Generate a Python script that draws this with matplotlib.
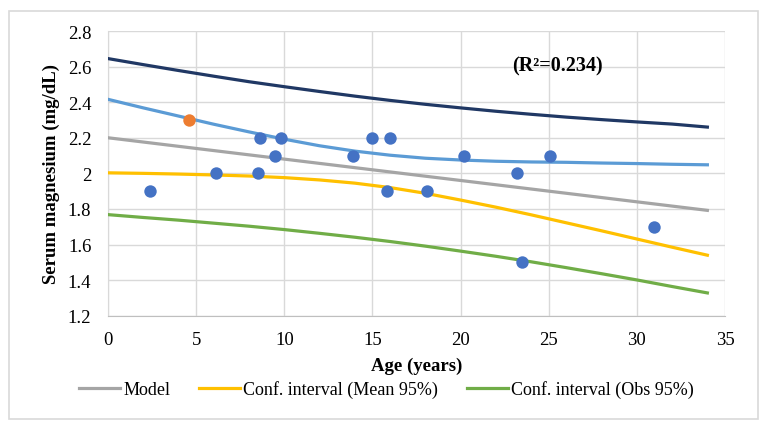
import matplotlib
matplotlib.use("Agg")
import matplotlib.pyplot as plt
from matplotlib.patches import Rectangle

# Observed data points
age = [2.4, 6.1, 8.6, 8.5, 9.5, 9.8, 13.9, 15.0, 16.0, 15.8, 20.2, 18.1, 23.2, 25.1, 31.0, 23.5]
mg = [1.9, 2.0, 2.2, 2.0, 2.1, 2.2, 2.1, 2.2, 2.2, 1.9, 2.1, 1.9, 2.0, 2.1, 1.7, 1.5]
outlier_age = [4.6]
outlier_mg = [2.3]

# Curves
curve_x = [0, 2, 4, 6, 8, 10, 12, 14, 16, 18, 20, 22, 24, 26, 28, 30, 32, 34]
model = [2.200, 2.176, 2.152, 2.128, 2.104, 2.080, 2.056, 2.032, 2.008, 1.984,
         1.960, 1.936, 1.912, 1.888, 1.864, 1.840, 1.816, 1.792]
mean_low = [2.003, 2.000, 1.996, 1.991, 1.985, 1.976, 1.963, 1.945, 1.920, 1.888,
            1.850, 1.810, 1.767, 1.722, 1.677, 1.631, 1.585, 1.540]
mean_up = [2.416, 2.368, 2.322, 2.276, 2.233, 2.192, 2.155, 2.125, 2.102, 2.085,
           2.075, 2.068, 2.064, 2.062, 2.058, 2.055, 2.051, 2.048]
obs_low = [1.768, 1.752, 1.737, 1.720, 1.703, 1.684, 1.663, 1.641, 1.617, 1.591,
           1.563, 1.534, 1.503, 1.470, 1.436, 1.401, 1.364, 1.328]
obs_up = [2.645, 2.611, 2.578, 2.546, 2.515, 2.487, 2.460, 2.434, 2.410, 2.388,
          2.368, 2.349, 2.332, 2.316, 2.302, 2.289, 2.277, 2.260]

x_ticks = [0, 5, 10, 15, 20, 25, 30, 35]
y_ticks = [1.2, 1.4, 1.6, 1.8, 2.0, 2.2, 2.4, 2.6, 2.8]
y_tick_labels = ["1.2", "1.4", "1.6", "1.8", "2", "2.2", "2.4", "2.6", "2.8"]

plt.rcParams['font.family'] = ['Liberation Serif', 'DejaVu Serif']

fig = plt.figure(figsize=(7.65, 4.31), dpi=100)
fig.patches.append(Rectangle((9 / 765, 1 - 420 / 431), 749 / 765, 408 / 431,
                             transform=fig.transFigure, fill=False,
                             edgecolor='#d9d9d9', lw=1.2))
ax = fig.add_axes([108 / 765, 1 - 316.7 / 431, 617 / 765, 284.7 / 431])

lw = 2.3
ax.plot(curve_x, model, color='#a5a5a5', lw=lw, label='Model', zorder=3)
ax.plot(curve_x, mean_low, color='#ffc000', lw=lw, label='Conf. interval (Mean 95%)', zorder=3)
ax.plot(curve_x, obs_low, color='#70ad47', lw=lw, label='Conf. interval (Obs 95%)', zorder=3)
ax.plot(curve_x, mean_up, color='#5b9bd5', lw=lw, zorder=3)
ax.plot(curve_x, obs_up, color='#203864', lw=lw, zorder=3)

ax.scatter(age, mg, s=80, color='#4472c4', zorder=4, linewidths=0)
ax.scatter(outlier_age, outlier_mg, s=80, color='#ed7d31', zorder=4, linewidths=0)

ax.set_xlim(0, 35)
ax.set_ylim(1.2, 2.8)
ax.set_xticks(x_ticks)
ax.set_yticks(y_ticks)
ax.set_yticklabels(y_tick_labels)
ax.grid(True, color='#d9d9d9', lw=1.0, zorder=0)
ax.set_axisbelow(True)
for s in ['top', 'right']:
    ax.spines[s].set_visible(False)
ax.spines['left'].set_color('#d9d9d9')
ax.spines['bottom'].set_color('#bfbfbf')
ax.tick_params(length=0, labelsize=13.5, colors='#000000')
ax.tick_params(axis='y', pad=12)
ax.tick_params(axis='x', pad=11)

ax.set_xlabel('Age (years)', fontsize=13.5, fontweight='bold', labelpad=6)
ax.set_ylabel('Serum magnesium (mg/dL)', fontsize=13.5, fontweight='bold', labelpad=6)

ax.text(25.5, 2.605, '(R\u00b2=0.234)', fontsize=14.5, fontweight='bold',
        ha='center', va='center')

fig.legend(loc='center', bbox_to_anchor=(386.5 / 765, 1 - 390 / 431), ncol=3,
           frameon=False, fontsize=13.0, handlelength=2.25, columnspacing=1.6,
           handletextpad=0.2)

fig.savefig('out.png', dpi=100)
